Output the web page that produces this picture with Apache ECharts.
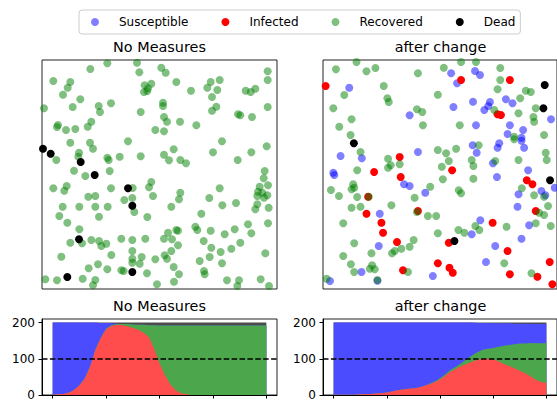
<!DOCTYPE html>
<html>
<head>
<meta charset="utf-8">
<script src="https://cdn.jsdelivr.net/npm/echarts@6.0.0/dist/echarts.min.js"></script>
<style>
html,body{margin:0;padding:0;background:#fff;}
#chart{width:557px;height:401px;}
</style>
</head>
<body>
<div id="chart"></div>
<script>
// ---------- DATA ----------
const stateNames = ['Susceptible', 'Infected', 'Recovered', 'Dead'];
const panelTitles = ['No Measures', 'after change'];

// scatter positions (world units, x 0..705, y 0..687)
const nmSusceptible = [];
const nmInfected = [];
const nmRecovered = [
[196,677],[285,679],[145,660],[358,664],[371,649],[292,650],[34,624],[85,621],[77,604],[63,583],[115,569],[308,611],[328,616],[318,602],[306,591],[316,594],[403,621],[447,595],[506,621],[533,627],[496,604],[526,597],[510,576],[611,595],[626,591],[640,601],[677,653],[677,627],[6,542],[92,546],[170,549],[174,531],[207,557],[296,531],[363,559],[363,549],[366,516],[523,547],[510,535],[588,524],[595,521],[630,516],[677,546],[48,492],[45,486],[72,477],[100,480],[148,502],[137,487],[375,502],[414,502],[463,491],[340,477],[366,473],
[85,439],[144,439],[153,421],[258,443],[540,443],[43,387],[111,409],[109,397],[196,394],[200,387],[233,397],[296,398],[203,354],[96,355],[130,339],[366,403],[381,386],[395,419],[415,387],[432,377],[513,410],[587,387],[628,410],[674,428],[34,302],[74,309],[67,295],[207,302],[272,303],[328,321],[321,305],[333,279],[139,277],[160,279],[247,267],[271,273],[415,289],[411,269],[502,273],[533,302],[582,258],[541,251],[388,247],[62,247],[112,247],[160,247],[197,247],[277,231],[52,219],[171,217],[316,216],[478,226],[668,354],[665,332],[653,307],[678,311],[648,292],[661,289],[676,281],[646,279],[666,274],[646,254],[640,239],[680,244],
[76,199],[618,194],[678,197],[112,179],[85,139],[120,137],[148,147],[171,144],[178,129],[193,136],[238,151],[271,147],[310,151],[366,151],[378,169],[403,177],[408,175],[390,149],[408,131],[388,114],[460,187],[466,177],[506,175],[548,164],[578,179],[628,167],[485,144],[508,124],[536,111],[568,121],[595,139],[670,107],[58,97],[208,102],[271,114],[271,91],[299,96],[293,76],[340,89],[368,101],[375,91],[395,66],[503,96],[473,84],[540,77],[486,54],[488,44],[411,44],[140,62],[168,74],[196,59],[238,56],[245,54],[271,79],[315,47],[10,29],[45,26],[122,31],[160,27],[153,11],[345,14],[396,22],[555,26],[591,26],[586,9],[656,29],[681,9]
];
const nmDead = [[3,421],[26,406],[116,381],[158,342],[258,302],[271,250],[111,149],[76,36],[271,51]];

const acSusceptible = [
[79,604],[261,521],[386,647],[404,617],[458,654],[473,642],[393,546],[452,562],[486,537],[503,561],[498,549],[551,569],[571,557],[461,491],[563,491],[603,477],[556,465],[598,454],[687,509],
[53,399],[117,392],[31,349],[34,342],[286,411],[451,431],[463,409],[531,437],[526,424],[598,445],[606,424],[512,377],[524,336],[618,356],[244,314],[261,309],[308,289],[589,284],[658,294],[670,281],[586,247],[171,226],[698,304],
[21,24],[116,51],[168,129],[331,39],[448,164],[474,206],[491,81],[519,129],[598,151],[621,191],[164,25]
];
const acInfected = [
[8,609],[416,627],[563,627],[526,524],[536,522],
[231,396],[154,351],[234,336],[389,356],[614,326],[631,314],[136,277],[131,226],[286,234],[641,234],
[176,199],[181,169],[223,141],[379,139],[346,77],[381,64],[391,49],[511,199],[556,114],[563,44],[646,37],[683,81],[691,14],[241,56]
];
const acRecovered = [
[101,681],[39,659],[131,653],[158,663],[286,647],[364,664],[416,681],[461,681],[534,663],[534,627],[183,609],[64,582],[194,572],[198,561],[31,542],[86,509],[49,487],[83,462],[283,539],[299,531],[301,491],[346,583],[412,491],[526,599],[594,572],[611,595],[626,591],[641,542],[589,527],[634,516],[636,502],[666,462],[576,457],[516,537],
[113,411],[196,391],[204,371],[196,364],[231,374],[103,356],[91,314],[94,304],[86,299],[24,297],[48,279],[103,276],[86,244],[113,247],[138,277],[206,251],[276,274],[283,231],[323,307],[346,417],[371,407],[379,384],[401,421],[358,367],[361,329],[448,387],[453,369],[453,331],[469,431],[519,384],[576,449],[589,387],[671,409],[674,387],[409,296],[416,287],[599,302],[636,281],[666,277],[678,249],[651,229],[666,222],[316,219],[341,219],
[61,197],[346,167],[408,177],[426,169],[459,189],[471,177],[553,187],[641,197],[686,189],[94,137],[61,99],[146,107],[84,74],[94,51],[148,71],[156,59],[141,61],[208,107],[216,114],[236,121],[261,127],[273,147],[546,77],[628,47],[11,31],[256,51],[164,27]
];
const acDead = [[668,612],[664,542],[93,437],[684,326],[396,144]];

// time series (counts per state)
const days = [0,5,10,15,20,25,30,35,40,45,50,55,60,65,70,75,80,85,90,95,100,105,110,115,120,125,130,135,140,145,150,155,160,165,170,175,180,185,190,195,200];
const nmInfectedTS = [1,2,3,6,14,26,45,78,125,157,182,191,194,193,190,185,180,172,160,128,88,55,30,13,5,2,0,0,0,0,0,0,0,0,0,0,0,0,0,0,0];
const nmRecoveredTS = [0,0,0,0,0,1,1,1,1,1,2,2,2,3,6,10,14,22,33,65,104,137,162,179,187,190,192,192,192,192,192,192,192,192,192,192,192,192,192,192,192];
const nmSusceptibleTS = [199,198,197,194,186,173,154,121,74,41,15,5,1,0,0,0,0,0,0,0,0,0,0,0,0,0,0,0,0,0,0,0,0,0,0,0,0,0,0,0,0];
const nmDeadTS = [0,0,0,0,0,0,0,0,0,1,1,2,3,4,4,5,6,6,7,7,8,8,8,8,8,8,8,8,8,8,8,8,8,8,8,8,8,8,8,8,8];

const acInfectedTS = [1,1,1,1,1,2,2,3,4,5,7,10,13,15,17,18,21,25,30,35,43,53,65,72,80,86,92,97,100,100,98,93,86,80,74,67,60,52,42,36,33];
const acRecoveredTS = [0,0,0,0,0,0,0,0,0,0,0,0,0,0,0,0,0,0,1,2,3,4,5,6,8,13,17,21,25,28,32,40,50,58,66,75,82,92,101,107,111];
const acSusceptibleTS = [199,199,199,199,199,198,198,197,196,195,193,190,187,185,183,182,179,175,169,163,154,143,130,122,112,101,91,81,74,71,68,65,62,60,57,55,55,53,53,53,52];
const acDeadTS = [0,0,0,0,0,0,0,0,0,0,0,0,0,0,0,0,0,0,0,0,0,0,0,0,0,0,0,1,1,1,2,2,2,2,3,3,3,3,4,4,4];

const xTicks = [0,50,100,150,200];
const yTicks = [0,100,200];
const threshold = 100;

// ---------- STYLE ----------
const FONT = 'DejaVu Sans';
const dotColors = {Susceptible:'rgba(0,0,255,0.5)', Infected:'#ff0000', Recovered:'rgba(0,128,0,0.5)', Dead:'#000000'};
const areaColors = {Susceptible:'#4c4cff', Infected:'#ff4c4c', Recovered:'#4ca64c', Dead:'#4c4c4c'};

const chart = echarts.init(document.getElementById('chart'), null, {renderer:'svg'});

const grids = [
  {left:42, top:60, width:235, height:229},
  {left:323, top:60, width:235, height:229},
  {left:42, top:319, width:235, height:77},
  {left:323, top:319, width:235, height:77}
].map(g => Object.assign({show:true, borderColor:'#222', borderWidth:1, backgroundColor:'transparent', containLabel:false}, g));

const xAxes = [], yAxes = [];
for (let i = 0; i < 2; i++) {
  xAxes.push({type:'value', gridIndex:i, min:0, max:705, show:false});
  yAxes.push({type:'value', gridIndex:i, min:0, max:687, show:false});
}
for (let i = 2; i < 4; i++) {
  xAxes.push({type:'value', gridIndex:i, min:-10, max:210,
    axisLine:{show:true, onZero:false, lineStyle:{color:'#000', width:1}},
    axisTick:{show:true, customValues:xTicks, length:3.5, lineStyle:{color:'#000', width:1}},
    axisLabel:{show:false}, splitLine:{show:false}});
  yAxes.push({type:'value', gridIndex:i, min:0, max:210,
    axisLine:{show:true, onZero:false, lineStyle:{color:'#000', width:1}},
    axisTick:{show:true, customValues:yTicks, length:3.5, lineStyle:{color:'#000', width:1}},
    axisLabel:{show:true, customValues:yTicks, fontSize:12, fontFamily:FONT, color:'#000', margin:7},
    splitLine:{show:false}});
}

const scatterSets = [
  {Susceptible:nmSusceptible, Infected:nmInfected, Recovered:nmRecovered, Dead:nmDead},
  {Susceptible:acSusceptible, Infected:acInfected, Recovered:acRecovered, Dead:acDead}
];
const tsSets = [
  {Infected:nmInfectedTS, Recovered:nmRecoveredTS, Susceptible:nmSusceptibleTS, Dead:nmDeadTS},
  {Infected:acInfectedTS, Recovered:acRecoveredTS, Susceptible:acSusceptibleTS, Dead:acDeadTS}
];

const series = [];
scatterSets.forEach((set, p) => {
  stateNames.forEach(name => {
    series.push({type:'scatter', name:name, xAxisIndex:p, yAxisIndex:p, data:set[name],
      symbol:'circle', symbolSize:8, clip:true, silent:true,
      itemStyle:{color:dotColors[name], borderWidth:0, opacity:1}});
  });
});

// stacked areas: bottom-to-top order Infected, Recovered, Susceptible, Dead.
// cumulative tops are computed here and drawn top layer first.
const stackOrder = ['Infected','Recovered','Susceptible','Dead'];
tsSets.forEach((set, p) => {
  const cum = [];
  let run = days.map(() => 0);
  stackOrder.forEach(name => {
    run = run.map((v, i) => v + set[name][i]);
    cum.push({name, tops: run.slice()});
  });
  for (let k = cum.length - 1; k >= 0; k--) {
    const c = cum[k];
    const s = {type:'line', name:c.name, xAxisIndex:2+p, yAxisIndex:2+p,
      data:days.map((d,i)=>[d, c.tops[i]]), symbol:'none', silent:true, smooth:false,
      lineStyle:{width:0, color:areaColors[c.name]}, itemStyle:{color:areaColors[c.name], opacity:1},
      areaStyle:{color:areaColors[c.name], opacity:1, origin:'start'}};
    if (k === 0) {
      s.markLine = {silent:true, symbol:['none','none'], label:{show:false},
        lineStyle:{color:'#000', type:[5.5,2.4], width:1.5}, data:[{yAxis:threshold}]};
    }
    series.push(s);
  }
});

const titleCenters = [[159.5,47],[440.5,47],[159.5,306],[440.5,306]];
const titles = titleCenters.map((c, i) => ({text:panelTitles[i % 2], left:c[0], top:c[1], padding:0,
  textAlign:'center', textVerticalAlign:'middle',
  textStyle:{fontSize:14.4, fontWeight:'normal', fontFamily:FONT, color:'#000'}}));

chart.setOption({
  animation:false,
  backgroundColor:'#fff',
  textStyle:{fontFamily:FONT},
  title:titles,
  legend:{
    left:79, top:10, orient:'horizontal', selectedMode:false,
    padding:[5,5,5,12], itemGap:33, itemWidth:8, itemHeight:8,
    borderColor:'#cccccc', borderWidth:1, borderRadius:3, backgroundColor:'#fff',
    textStyle:{fontSize:12, fontFamily:FONT, color:'#000', padding:[0,0,0,15], lineHeight:14},
    data:stateNames.map(n => ({name:n, icon:'circle', itemStyle:{color:dotColors[n], borderWidth:0, opacity:1}}))
  },
  grid:grids,
  xAxis:xAxes,
  yAxis:yAxes,
  series:series
});
</script>
</body>
</html>
